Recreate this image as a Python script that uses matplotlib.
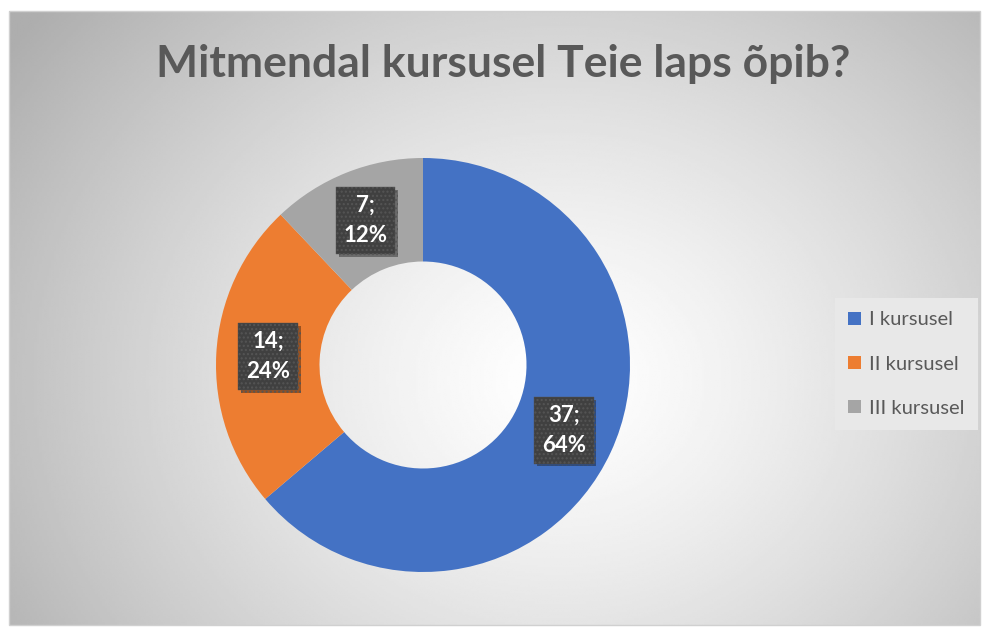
import numpy as np
import matplotlib.pyplot as plt
from matplotlib.patches import Rectangle, Patch
import matplotlib.patheffects as pe

plt.rcParams['font.family'] = ['Lato', 'DejaVu Sans']
plt.rcParams['hatch.linewidth'] = 1.0

# Andmed
categories = ['I kursusel', 'II kursusel', 'III kursusel']
counts = [37, 14, 7]
colors = ['#4472c4', '#ed7d31', '#a5a5a5']
title = 'Mitmendal kursusel Teie laps õpib?'

W, H = 986, 628
fig = plt.figure(figsize=(W / 100, H / 100), dpi=100)

# taust: raadiusgradient diagrammi alal
bg = fig.add_axes([0, 0, 1, 1])
bg.set_xlim(0, W)
bg.set_ylim(H, 0)
bg.axis('off')
x0, x1, y0, y1 = 9, 980, 11, 625
xx, yy = np.meshgrid(np.linspace(x0, x1, 400), np.linspace(y0, y1, 300))
d = np.sqrt(((xx - 560) / 560) ** 2 + ((yy - 380) / 480) ** 2)
shade = 1.0 - 0.25 * np.clip(d, 0, 1.2) ** 1.3
bg.imshow(shade, cmap='gray', vmin=0, vmax=1, extent=[x0, x1, y1, y0],
          aspect='auto', interpolation='bilinear')
bg.add_patch(Rectangle((x0, y0), x1 - x0, y1 - y0, fill=False,
                       ec='#d0d0d0', lw=1))

# sõõrikdiagramm
cx, cy, r = 423, 365, 207
ax = fig.add_axes([(cx - r) / W, 1 - (cy + r) / H, 2 * r / W, 2 * r / H])
wedges, _ = ax.pie(counts, colors=colors, startangle=90, counterclock=False,
                   wedgeprops=dict(width=0.5, edgecolor='none'))
ax.set_xlim(-1, 1)
ax.set_ylim(-1, 1)
ax.set_aspect('equal')
total = sum(counts)
for w, c in zip(wedges, counts):
    ang = np.deg2rad((w.theta1 + w.theta2) / 2)
    px, py = 0.75 * np.cos(ang), 0.75 * np.sin(ang)
    txt = f'{c};\n{round(100 * c / total)}%'
    t = ax.text(px, py, txt, ha='center', va='center', fontsize=16,
                fontweight='bold', color='white', linespacing=1.55,
                bbox=dict(boxstyle='square,pad=0.35', fc='#404040',
                          ec='#555555', lw=0.3, hatch='....'))
    t.get_bbox_patch().set_path_effects(
        [pe.SimplePatchShadow(offset=(2, -2), shadow_rgbFace='black',
                              alpha=0.35), pe.Normal()])

# pealkiri
fig.text(503 / W, 1 - 64 / H, title, ha='center', va='center',
         fontsize=32, fontweight='bold', color='#595959')

# legend
handles = [Patch(facecolor=c, edgecolor='none') for c in colors]
leg = fig.legend(handles, categories, loc='center left',
                 bbox_to_anchor=(835 / W, 1 - 364 / H), fontsize=14.5,
                 frameon=True, fancybox=False, handlelength=0.65,
                 handleheight=0.65, handletextpad=0.4, labelspacing=1.35,
                 borderpad=0.65, borderaxespad=0, labelcolor='#595959')
leg.get_frame().set_facecolor('#e8e8e8')
leg.get_frame().set_edgecolor('none')
leg.get_frame().set_alpha(1)

fig.savefig('out.png', dpi=100)
